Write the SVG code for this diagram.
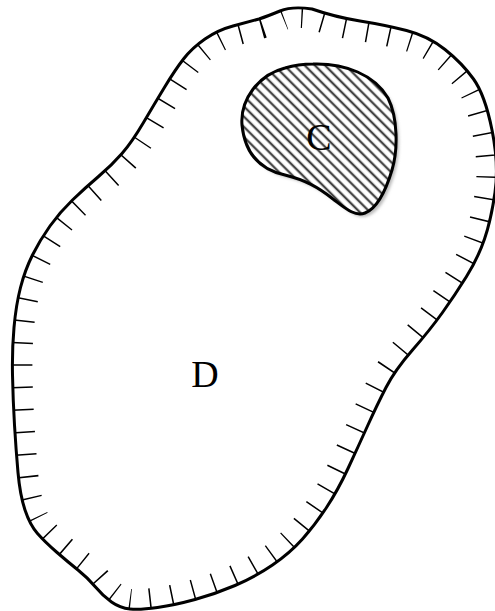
<svg xmlns="http://www.w3.org/2000/svg" width="495" height="611" viewBox="0 0 495 611">
<style>
.outline{fill:none;stroke:#000;stroke-width:3;stroke-linejoin:round}
.ticks{fill:none;stroke:#000;stroke-width:40;stroke-dasharray:1.5 21}
.lbl{font-family:"Liberation Serif","Times New Roman",serif;font-size:38px;fill:#000;text-anchor:middle}
</style>
<defs>
<path id="dpath" d="M259,19 Q268,16 280,11 Q292,6 312,9 Q335,17 360,21 Q385,25 406.5,30.5 Q428,36 445,49.5 Q462,63 473.5,79 Q485,95 492,130 Q499,165 495,192.5 Q491,220 484.5,239 Q478,258 466.5,276.5 Q455,295 442.5,312.5 Q430,330 412.5,350 Q395,370 386,387.5 Q377,405 367.5,426 Q358,447 348,468.5 Q338,490 326.5,507.5 Q315,525 302.5,539 Q290,553 272.5,565 Q255,577 235,585.5 Q215,594 195,599.5 Q175,605 157.5,607.5 Q140,610 130,609 Q120,608 111.5,602 Q103,596 95.5,587 Q88,578 78,570 Q68,562 56.5,552 Q45,542 37.5,533.5 Q30,525 25,510 Q20,495 18,472.5 Q16,450 14.5,425 Q13,400 12.5,375 Q12,350 14,327.5 Q16,305 20.5,287.5 Q25,270 32.5,255 Q40,240 50,226 Q60,212 72.5,200 Q85,188 98.5,176.5 Q112,165 122,153.5 Q132,142 143.5,122.5 Q155,103 165,86.5 Q175,70 183.5,59 Q192,48 205,39 Q218,30 233,26 Q248,22 259,19 Z"/>
<clipPath id="dclip"><use href="#dpath"/></clipPath>
<path id="cpath" d="M313,64 C345,63 375,75 388,98 C398,118 398,150 392,170 C386,190 378,208 365,213 C355,217 345,208 333,199 C318,187 305,180 285,175 C262,170 245,155 242,125 C240,100 258,75 285,68 C295,65 305,64 313,64 Z"/>
<pattern id="hatch" patternUnits="userSpaceOnUse" width="7.2" height="7.2" patternTransform="rotate(45)">
<rect width="7.2" height="7.2" fill="#fff"/>
<line x1="0" y1="3.6" x2="7.2" y2="3.6" stroke="#444" stroke-width="2.3"/>
</pattern>
<filter id="blur" x="-20%" y="-20%" width="140%" height="140%"><feGaussianBlur stdDeviation="1.5"/></filter>
</defs>
<g id="D">
<g clip-path="url(#dclip)"><use href="#dpath" class="ticks"/></g>
<use href="#dpath" class="outline"/>
<text class="lbl" x="205" y="387">D</text>
</g>
<g id="C">
<use href="#cpath" transform="translate(3,3)" fill="#bbb" filter="url(#blur)"/>
<use href="#cpath" fill="url(#hatch)"/>
<use href="#cpath" class="outline"/>
<text class="lbl" x="319" y="150">C</text>
</g>
<g id="connectors"/>
</svg>
